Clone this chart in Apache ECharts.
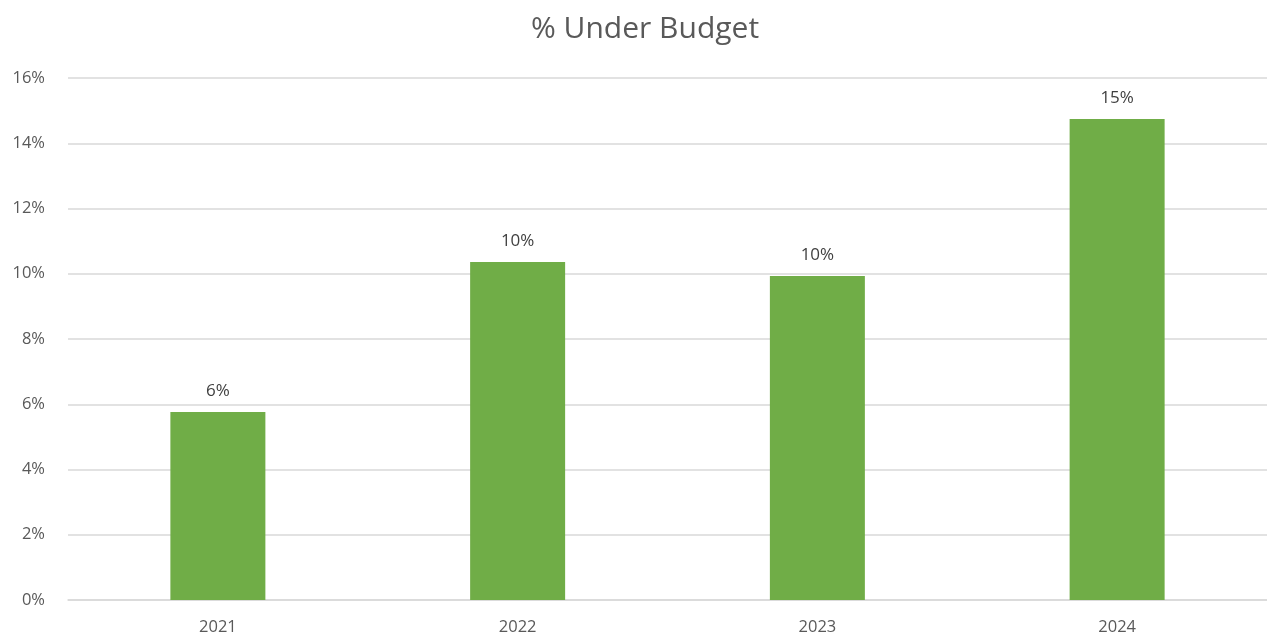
<!DOCTYPE html>
<html>
<head>
<meta charset="utf-8">
<script src="https://cdn.jsdelivr.net/npm/echarts@6/dist/echarts.min.js"></script>
<style>html,body{margin:0;padding:0;background:#fff;}#c{width:1267px;height:636px;}</style>
</head>
<body>
<div id="c"></div>
<script>
var categories = ['2021', '2022', '2023', '2024'];
var underBudget = [5.76, 10.36, 9.93, 14.74];
var yTicks = { min: 0, max: 16, interval: 2 };

var chart = echarts.init(document.getElementById('c'));
chart.setOption({
  animation: false,
  title: {
    text: '% Under Budget',
    left: 526,
    top: 9,
    textStyle: { fontFamily: 'Open Sans', fontSize: 30, fontWeight: 'normal', color: '#595959' }
  },
  grid: { left: 68, right: 0, top: 78, bottom: 36 },
  xAxis: {
    type: 'category',
    data: categories,
    axisLine: { lineStyle: { color: '#D9D9D9', width: 1.5 } },
    axisTick: { show: false },
    axisLabel: { color: '#595959', fontFamily: 'Open Sans', fontSize: 16.5, margin: 19 }
  },
  yAxis: {
    type: 'value',
    min: yTicks.min, max: yTicks.max, interval: yTicks.interval,
    axisLine: { show: false },
    axisTick: { show: false },
    splitLine: { lineStyle: { color: '#D9D9D9', width: 1.5 } },
    axisLabel: { color: '#595959', fontFamily: 'Open Sans', fontSize: 16.5, margin: 23, formatter: '{value}%' }
  },
  series: [{
    type: 'bar',
    data: underBudget,
    barWidth: 95,
    itemStyle: { color: '#70AD47' },
    label: {
      show: true, position: 'top', distance: 12,
      color: '#404040', fontFamily: 'Open Sans', fontSize: 17,
      formatter: function (p) { return Math.round(p.value) + '%'; }
    }
  }]
});
</script>
</body>
</html>
